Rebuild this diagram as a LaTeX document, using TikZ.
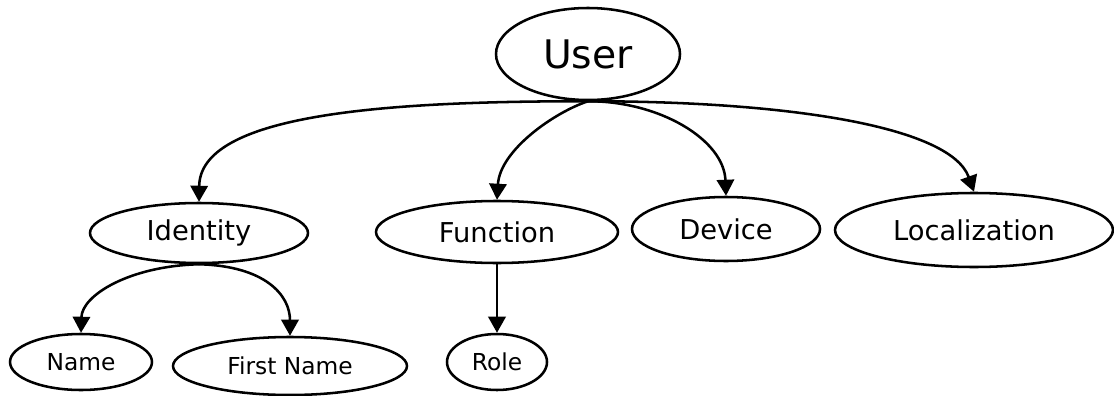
\documentclass[tikz,border=0pt]{standalone}
\usepackage{fontspec}
\setmainfont{DejaVu Sans}
\usetikzlibrary{shapes.geometric,arrows.meta}

\tikzset{
  oval/.style={ellipse, draw, line width=1.9pt, inner sep=0pt, align=center},
  toplevel/.style={oval, font=\fontsize{29.5}{32}\selectfont},
  midlevel/.style={oval, font=\fontsize{20.5}{23}\selectfont},
  lowlevel/.style={oval, font=\fontsize{17.5}{20}\selectfont},
  link/.style={line width=1.9pt, -{Triangle[length=12pt,width=13pt]}},
}

\begin{document}
\begin{tikzpicture}[x=0.75pt, y=-0.75pt]
  \useasboundingbox[fill=white] (0,0) rectangle (1114,396);

  % root
  \node[toplevel, minimum width=138pt, minimum height=69pt] (user) at (588,54) {User};

  % second level
  \node[midlevel, minimum width=163.5pt, minimum height=45pt] (identity) at (199,233) {Identity};
  \node[midlevel, minimum width=181.5pt, minimum height=46.5pt] (function) at (497,232) {Function};
  \node[midlevel, minimum width=141pt, minimum height=48pt] (device) at (726,229) {Device};
  \node[midlevel, minimum width=208.5pt, minimum height=55.5pt] (localization) at (974,230) {Localization};

  % third level
  \node[lowlevel, minimum width=106.5pt, minimum height=42pt] (name) at (81,362) {Name};
  \node[lowlevel, minimum width=175.5pt, minimum height=43.5pt] (firstname) at (290,366) {First Name};
  \node[lowlevel, minimum width=75pt, minimum height=42pt] (role) at (497,362) {Role};

  % connectors from the root
  \draw[link] (user.south) .. controls (380,101) and (200,115) .. (identity.north);
  \draw[link] (user.south) .. controls (555,112) and (500,150) .. (function.north);
  \draw[link] (user.south) .. controls (660,101) and (724,140) .. (device.north);
  \draw[link] (user.south) .. controls (780,101) and (950,125) .. (localization.north);

  % connectors below
  \draw[link] (identity.south) .. controls (130,266) and (82,295) .. (name.north);
  \draw[link] (identity.south) .. controls (265,266) and (290,295) .. (firstname.north);
  \draw[link] (function.south) -- (role.north);
\end{tikzpicture}
\end{document}
